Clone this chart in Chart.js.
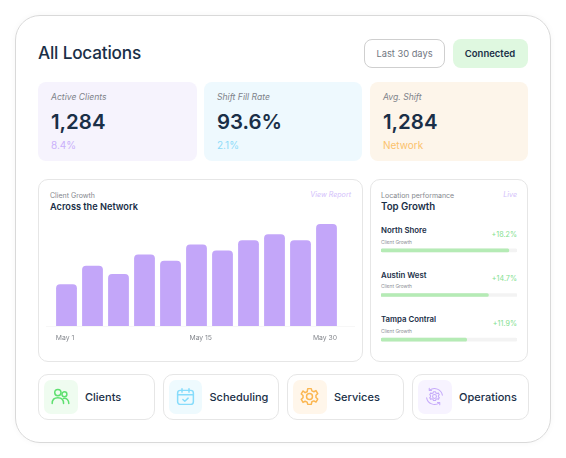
<!DOCTYPE html>
<html>
<head>
<meta charset="utf-8">
<title>All Locations</title>
<script src="https://cdn.jsdelivr.net/npm/chart.js@4"></script>
<style>
html, body { margin: 0; padding: 0; background: #fff; width: 566px; height: 458px; overflow: hidden; }
body { position: relative; font-family: Inter, sans-serif; color: #1a2f47; }
.box, .t, canvas { position: absolute; box-sizing: border-box; }
.t { white-space: nowrap; line-height: 1; transform: translateY(-50%); }
.r { transform: translate(-100%, -50%); }
.c { transform: translate(-50%, -50%); }
.line { border: 1px solid #e6e6e6; border-radius: 10px; background: #fff; }
.icon { border-radius: 7px; display: flex; align-items: center; justify-content: center; }
</style>
</head>
<body>
<div class="box" style="left:15px;top:15px;width:536px;height:428px;border:1px solid #d9d9d9;border-radius:25px;box-shadow:0 0 6px rgba(0,0,0,.04)"></div>
<div class="t" style="left:38px;top:53px;font-size:17.2px;font-weight:500;letter-spacing:-.2px">All Locations</div>
<div class="box" style="left:364px;top:39px;width:81px;height:29px;border:1px solid #cfcfcf;border-radius:8px"></div>
<div class="t c" style="left:404.5px;top:54px;font-size:9.3px;color:#6f7680">Last 30 days</div>
<div class="box" style="left:453px;top:39px;width:75px;height:29px;background:#dff8e0;border-radius:8px"></div>
<div class="t c" style="left:490px;top:54px;font-size:9.5px;font-weight:600">Connected</div>

<div id="stats"></div>

<div class="box line" style="left:38px;top:179px;width:324.5px;height:183px"></div>
<div class="t" style="left:50px;top:195px;font-size:7px;color:#85888e">Client Growth</div>
<div class="t" style="left:50px;top:207px;font-size:9.2px;font-weight:600">Across the Network</div>
<div class="t r" style="left:351px;top:195px;font-size:7.1px;font-style:italic;color:#d3c0fb">View Report</div>
<div class="box" style="left:46px;top:326px;width:309px;height:1px;background:#f7f7f7"></div>
<canvas id="grafico-clientes" width="322" height="134" style="left:39px;top:216px"></canvas>

<div class="box line" style="left:370px;top:179px;width:158px;height:183px"></div>
<div class="t" style="left:381px;top:195px;font-size:7px;color:#85888e">Location performance</div>
<div class="t r" style="left:517px;top:195px;font-size:7.1px;font-style:italic;color:#d3c0fb">Live</div>
<div class="t" style="left:381px;top:207px;font-size:9.7px;font-weight:600">Top Growth</div>
<div id="rows"></div>
<canvas id="grafico-locais" width="136" height="134" style="left:381px;top:228px"></canvas>

<div id="links"></div>

<script>
var statLabels = ['Active Clients', 'Shift Fill Rate', 'Avg. Shift'];
var statValues = ['1,284', '93.6%', '1,284'];
var statNotes = ['8.4%', '2.1%', 'Network'];

var barLabels = ['May 1', '', '', '', '', 'May 15', '', '', '', '', 'May 30'];
var barValues = [41, 59, 51, 70, 64, 80, 74, 84, 90, 84, 100];

var locationNames = ['North Shore', 'Austin West', 'Tampa Contral'];
var locationGrowth = ['+18.2%', '+14.7%', '+11.9%'];
var locationProgress = [94, 79, 63];
var locationTrack = [100, 100, 100];

var linkNames = ['Clients', 'Scheduling', 'Services', 'Operations'];

var statStyle = [
    { left: 38, width: 158.5, bg: '#f6f3fd', note: '#c9b0fb' },
    { left: 204, width: 158, bg: '#eef9fe', note: '#8edcf9' },
    { left: 370, width: 158, bg: '#fdf5ea', note: '#fbc26c' }
];

var html = '';
statLabels.forEach(function (label, i) {
    var s = statStyle[i];
    var x = s.left + 13;
    html += '<div class="box" style="left:' + s.left + 'px;top:81.5px;width:' + s.width + 'px;height:79px;border-radius:8px;background:' + s.bg + '"></div>';
    html += '<div class="t" style="left:' + x + 'px;top:97px;font-size:8.6px;font-style:italic;color:#7f838a">' + label + '</div>';
    html += '<div class="t" style="left:' + x + 'px;top:122px;font-size:20.4px;font-weight:600">' + statValues[i] + '</div>';
    html += '<div class="t" style="left:' + x + 'px;top:145px;font-size:10px;color:' + s.note + '">' + statNotes[i] + '</div>';
});
document.getElementById('stats').innerHTML = html;

var rowTops = [231, 275.5, 320];
html = '';
locationNames.forEach(function (name, i) {
    var y = rowTops[i];
    html += '<div class="t" style="left:381px;top:' + y + 'px;font-size:7.8px;font-weight:600">' + name + '</div>';
    html += '<div class="t" style="left:381px;top:' + (y + 10.5) + 'px;font-size:4.8px;color:#8b8e94">Client Growth</div>';
    html += '<div class="t r" style="left:517px;top:' + (y + 3.5) + 'px;font-size:7.2px;color:#84e08f">' + locationGrowth[i] + '</div>';
});
document.getElementById('rows').innerHTML = html;

var linkStyle = [
    { left: 38, bg: '#effcf0', color: '#5fe070' },
    { left: 162.5, bg: '#eefafe', color: '#86dcfb' },
    { left: 287, bg: '#fff6ea', color: '#fbb650' },
    { left: 412, bg: '#f7f3ff', color: '#c6aafa' }
];
var linkIcons = [
    '<circle cx="9" cy="7.5" r="3.6"/><circle cx="16.5" cy="9.5" r="2.8"/><path d="M2.5 20c0-4 2.6-6.5 6.5-6.5s6.5 2.5 6.5 6.5"/><path d="M15.5 14.2c3.6-.5 6 1.8 6 5.8"/>',
    '<rect x="3" y="5" width="18" height="16" rx="3"/><path d="M3 10h18M8 3v4M16 3v4M9 15.5l2.2 2 3.8-3.6"/>',
    '<circle cx="12" cy="12" r="3.4"/><path d="M10 3h4l.7 2.6 2.3 1 2.4-1.3 2 3.4-2 1.8v2.6l2 1.8-2 3.4-2.4-1.3-2.3 1L14 21h-4l-.7-2.6-2.3-1-2.4 1.3-2-3.4 2-1.8v-2.6l-2-1.8 2-3.4L7 7.6l2.3-1z"/>',
    '<g stroke-width="1.2"><circle cx="12" cy="12" r="2.2"/><path d="M10.8 6.6h2.4l.4 1.4 1.4.6 1.3-.7 1.2 2-1 1v1.4l1 1-1.2 2-1.3-.7-1.4.6-.4 1.4h-2.4l-.4-1.4-1.4-.6-1.3.7-1.2-2 1-1v-1.4l-1-1 1.2-2 1.3.7 1.4-.6z"/><path d="M21 10.5A9.2 9.2 0 0 0 6.4 4.8M3 13.5a9.2 9.2 0 0 0 14.6 5.7"/><path d="M6 2.6v2.6h2.6M18 21.4v-2.6h-2.6"/></g>'
];
html = '';
linkNames.forEach(function (name, i) {
    var s = linkStyle[i];
    html += '<div class="box line" style="left:' + s.left + 'px;top:374px;width:116.5px;height:46px"></div>';
    html += '<div class="box icon" style="left:' + (s.left + 6) + 'px;top:380px;width:33.5px;height:33.5px;background:' + s.bg + '">' +
        '<svg width="21" height="21" viewBox="0 0 24 24" fill="none" stroke="' + s.color + '" stroke-width="1.7" stroke-linecap="round" stroke-linejoin="round">' + linkIcons[i] + '</svg></div>';
    html += '<div class="t" style="left:' + (s.left + 47) + 'px;top:397px;font-size:11px;font-weight:500">' + name + '</div>';
});
document.getElementById('links').innerHTML = html;

var graficoClientes = new Chart(document.getElementById('grafico-clientes').getContext('2d'), {
    type: 'bar',
    data: {
        labels: barLabels,
        datasets: [{
            label: 'Client Growth',
            data: barValues,
            backgroundColor: '#c3a6f9',
            categoryPercentage: 1,
            barPercentage: 0.8,
            borderRadius: { topLeft: 4, topRight: 4 },
            borderSkipped: 'bottom'
        }]
    },
    options: {
        responsive: false,
        animation: false,
        layout: { padding: { left: 14.5, right: 21.5, top: 8, bottom: 0 } },
        plugins: { legend: { display: false }, tooltip: { enabled: false } },
        scales: {
            x: {
                grid: { display: false },
                border: { display: false },
                afterFit: function (scale) { scale.height = 24; },
                ticks: {
                    autoSkip: false,
                    maxRotation: 0,
                    padding: 0,
                    labelOffset: -1.5,
                    color: '#85888e',
                    font: { family: 'Inter', size: 6.8 },
                    // the middle label sits a little right of its bar
                    callback: function (value, i) {
                        return i == 5 ? '\u00a0\u00a0\u00a0\u00a0\u00a0\u00a0' + barLabels[i] : barLabels[i];
                    }
                }
            },
            y: { display: false, min: 0, max: 100 }
        }
    }
});

var graficoLocais = new Chart(document.getElementById('grafico-locais').getContext('2d'), {
    type: 'bar',
    data: {
        labels: locationNames,
        datasets: [{
            label: 'Progress',
            data: locationProgress,
            backgroundColor: '#b5ebb5',
            barThickness: 3,
            borderRadius: 2,
            borderSkipped: false,
            grouped: false,
            order: 1
        }, {
            label: 'Track',
            data: locationTrack,
            backgroundColor: '#f3f3f3',
            barThickness: 3,
            borderRadius: 2,
            borderSkipped: false,
            grouped: false,
            order: 2
        }]
    },
    options: {
        indexAxis: 'y',
        responsive: false,
        animation: false,
        plugins: { legend: { display: false }, tooltip: { enabled: false } },
        scales: {
            x: { display: false, min: 0, max: 100 },
            y: { display: false }
        }
    }
});
</script>
</body>
</html>
